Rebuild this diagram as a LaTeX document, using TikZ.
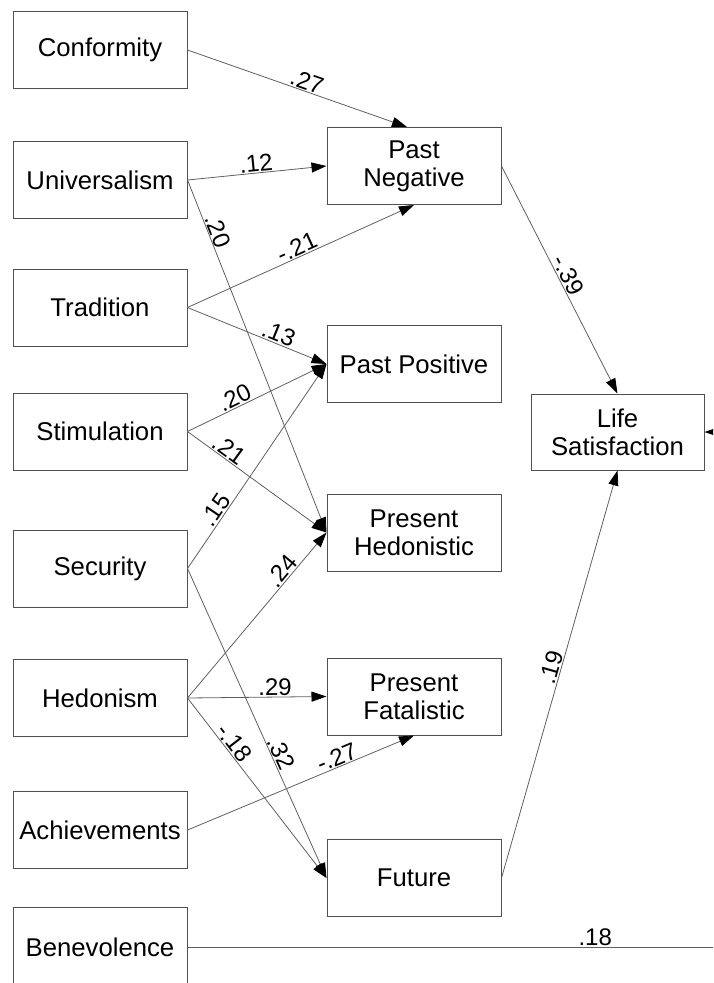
\documentclass[tikz,border=0pt]{standalone}
\usepackage{fontspec}
\setmainfont{Liberation Sans}
\usetikzlibrary{arrows.meta,calc}
\definecolor{boxcol}{RGB}{80,80,80}
\definecolor{linecol}{RGB}{95,95,95}
\begin{document}
\begin{tikzpicture}[x=1pt,y=-1pt,
  box/.style={draw=boxcol, line width=1pt, minimum width=174pt, minimum height=77pt,
    inner sep=0pt, align=center, font=\fontsize{25.7}{28}\selectfont},
  path/.style={draw=linecol, line width=0.8pt, -{Triangle[length=15pt,width=10pt,color=black]}},
  plain/.style={draw=linecol, line width=0.8pt},
  lab/.style={sloped, above, inner sep=1pt, font=\fontsize{24}{24}\selectfont}]
\useasboundingbox (0,0) rectangle (713,983);
\clip (0,0) rectangle (713,983);
% left column
\node[box] (conf) at (100,50) {Conformity};
\node[box] (univ) at (100,180) {Universalism};
\node[box] (trad) at (100,307.5) {Tradition};
\node[box] (stim) at (100,431.5) {Stimulation};
\node[box] (secu) at (100,568.5) {Security};
\node[box] (hedo) at (100,698) {Hedonism};
\node[box] (achi) at (100,830) {Achievements};
\node[box, minimum height=80pt] (bene) at (100,947) {Benevolence};
% middle column
\node[box] (pn) at (414,166) {Past\\Negative};
\node[box] (pp) at (414,364) {Past Positive};
\node[box] (ph) at (414,532.5) {Present\\Hedonistic};
\node[box] (pf) at (414,696.5) {Present\\Fatalistic};
\node[box] (fut) at (414,878) {Future};
% outcome
\node[box, minimum width=173pt, minimum height=76pt] (ls) at (617.5,432) {Life\\Satisfaction};
\coordinate (offB) at (740,947);
\coordinate (offR) at (740,432);
% paths
\draw[path] (conf.east) -- node[lab, pos=0.53] {.27} ([xshift=-7pt]pn.north);
\draw[path] (univ.east) -- node[lab, pos=0.5] {.12} (pn.west);
\draw[path] (univ.east) -- node[lab, pos=0.155] {.20} (ph.west);
\draw[path] (trad.east) -- node[lab, pos=0.5] {-.21} (pn.south);
\draw[path] (trad.east) -- node[lab, pos=0.63] {.13} (pp.west);
\draw[path] (stim.east) -- node[lab, pos=0.37] {.20} (pp.west);
\draw[path] (stim.east) -- node[lab, pos=0.26] {.21} (ph.west);
\draw[path] (secu.east) -- node[lab, pos=0.26] {.15} (pp.west);
\draw[path] (secu.east) -- node[lab, pos=0.61] {.32} (fut.west);
\draw[path] (hedo.east) -- node[lab, pos=0.73] {.24} (ph.west);
\draw[path] (hedo.east) -- node[lab, pos=0.63] {.29} (pf.west);
\draw[path] (hedo.east) -- node[lab, pos=0.28] {-.18} (fut.west);
\draw[path] (achi.east) -- node[lab, pos=0.675] {-.27} (pf.south);
\draw[path] (pn.east) -- node[lab, pos=0.5] {-.39} (ls.north);
\draw[path] (fut.east) -- node[lab, pos=0.51] {.19} (ls.south);
\draw[plain] (bene.east) -- node[lab, pos=0.738] {.18} (offB);
\draw[path] (offR) -- (ls.east);
\end{tikzpicture}
\end{document}
